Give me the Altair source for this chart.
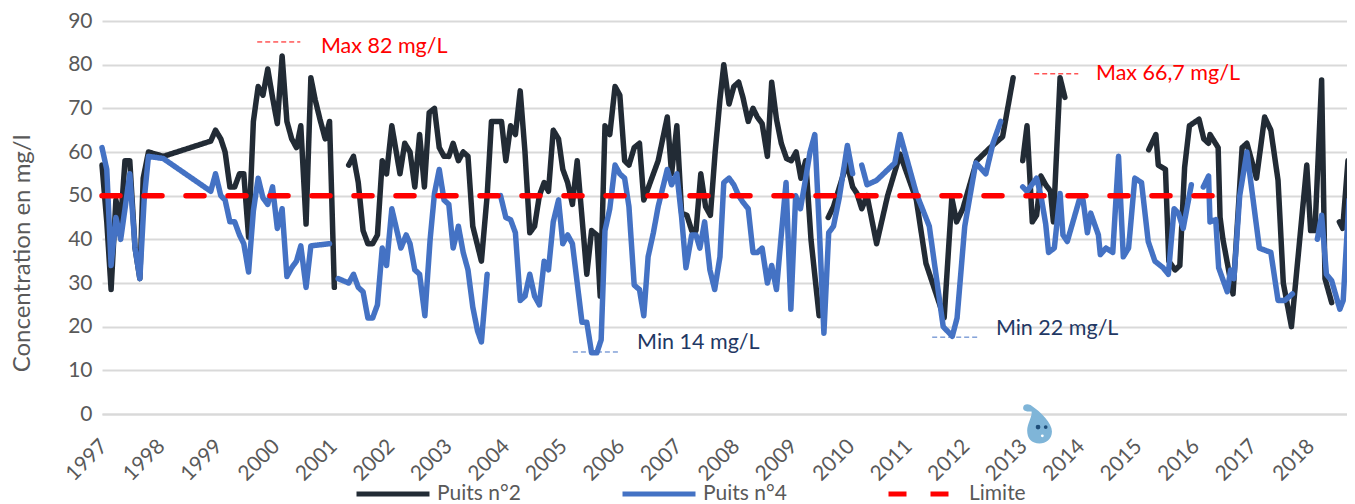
import altair as alt
import pandas as pd

# months since January 1997; None values mark gaps in the record
p2_months = [0,1,1.9,2.9,3.9,4.8,5.8,6.9,7.9,8.6,9.7,12.8,22.7,23.7,24.8,25.7,26.7,27.7,28.7,29.6,30.6,31.6,32.6,33.6,34.6,35.6,36.6,37.6,38.6,39.6,40.6,41.5,42.6,43.6,44.5,45.5,46.6,47.5,48.5,
 50,51.5,52.5,53.5,54.5,55.5,56.5,57.5,58.5,59.4,60.5,62.2,63.2,64.3,65.3,66.3,67.3,68.3,69.4,70.4,71.4,72.4,73.3,74.4,75.4,76.4,77.4,79.2,80.4,81.3,83.4,84.3,85.3,86.3,87.3,88.3,89.3,90.3,91.3,92.3,93.2,94.2,95.3,96.2,97.2,98.2,99.2,100.2,101.2,102.2,103.3,104,105,106,107.1,108.1,109.1,110,111.1,112.2,113.1,116.1,118,118.9,120,121,122.1,123.1,124,125,126,127,128,129,129.8,130.9,131.9,132.9,133.8,134.9,135.9,136.8,137.8,138.9,139.8,140.8,141.8,142.9,143.9,144.9,145.9,146.9,148,149.7,
 151,151.6,152.7,155.5,156.7,157.6,158.6,159.7,161.7,164,166.6,170,172,175.8,177.4,178.4,179.7,182.6,185.4,188,190.2,
 191.2,192.2,193.1,194.2,195.1,196,197,198,198.6,200,201,
 210,218.5,220,220.5,222,222.7,224,225,226,227,229,230,231,231.3,233,233.4,234,236.1,238,239,241,242.7,244,245.5,246.6,248.3,251.5,252.3,253.2,254.6,255.3,256.7,
 257.5,258.3,259,260.1]
p2_values = [57,44,28.5,49,44,58,58,38,31,54,60,59,62.5,65,63,60,52,52,55,55,40.5,67,75,73,79,72.5,66.5,82,67,63,61,66,43.5,77,72,67.5,63,67,29,
 None,57,59,53,42,39,39,41,58,55,66,55,62,60,52,64,52,69,70,61,59,59,62,58,60,59,43,35,50,67,67,58,66,64,74,60,41.5,43,50,53,51,65,63,56,53,48,58,45,32,42,41,27,66,64,75,73,58,57,61,62,49,58,68,55,66,46,45.5,42,42,55,47.5,45.5,60,72,80,71,75,76,72.5,67,70,68,66.5,59,76,67.5,62,58.5,58,60,54,58,40,22.5,
 None,45,47.5,57.5,52,50.5,47,50,39,50,59.5,49,34.5,22,49.5,44,47,58,61,63.5,77,
 None,58,66,44,45.5,54.5,52.5,51,44,77,72.5,
 None,60.5,64,57,56,35,33,34,56.5,66,67.5,63,62,64,61,45,40,27.5,61,62,54,68,65,53.5,30,20,57,42,42,76.5,31,25.5,
 None,44,42.5,58]

p4_months = [0,1,1.9,2.9,3.9,4.8,5.8,6.9,7.9,8.8,9.7,12.8,22.7,23.7,24.8,25.7,26.7,27.7,28.7,29.6,30.6,31.6,32.6,33.6,34.6,35.6,36.6,37.6,38.6,39.6,40.6,41.5,42.6,43.6,47.5,
 48.8,49.3,51.5,52.5,53.5,54.5,55.5,56.5,57.5,58.5,59.4,60.5,62.4,63.5,64.3,65.3,66.3,67.4,68.5,69.4,70.4,71.4,72.4,73.3,74.4,75.4,76.4,77.4,78.4,79.2,80.4,
 82,83.2,84.3,85.3,86.3,87.3,88.3,89.3,90.3,91.3,92.3,93.2,94.2,95.3,96.2,97.2,98.2,99.2,100.2,101.2,102.2,103.3,104.2,105,106,107.1,108.1,109.1,110,111.1,112.2,113.1,114,115.1,116.1,118,118.9,120,121,121.9,123.1,124,124.8,125.8,126.9,127.9,129,129.8,130.9,131.9,132.9,133.8,134.9,135.9,136.8,137.8,138.9,139.8,140.8,141.8,142.8,143.8,144.8,145.8,146.9,147.8,148.8,149.8,150.7,151.7,152.7,153.9,155.6,156.7,
 157.6,158.6,159.7,161.7,165.5,166.6,170,172.7,175.6,177.5,178.5,180.1,182.4,184.5,186,187.6,
 190,192.2,193.1,194.1,195.1,196,197,197.6,198.8,200,200.6,201.5,204,204.8,205.7,206.4,208,208.4,209.6,211,212.2,213.2,214.3,215.6,217,218.4,219.8,221.5,222.6,223.8,224.7,225.7,227.4,
 228.6,229.9,231,231.3,232.5,233.1,234.9,235.6,236.3,237.5,239,241.6,244,245.5,246.9,248.5,
 251,253.7,254.6,255.6,256.7,258.4,259.1,260.3]
p4_values = [61,56,34,45,40,47,55,38,31,49,59,58.5,51,55,50,49,44,44,41,39,32.5,46.5,54,49.5,48,52,42.5,47,31.5,33.5,35,38.5,29,38.5,39,
 None,31,30,32,29,28,22,22,25,38,34,47,38,41,39,33,32,22.5,40,50.5,56,49,48,38,43,37,33,24.5,19,16.5,32,
 None,50,45,44.5,41.5,26,27,32,27,25,35,33,44,49,39,41,39,30,21,21,14,14,17,42,47,57,55,54,47.5,29.5,28.5,22.5,36,41.5,47.5,56,52.5,55,45,33.5,41,41,38,44,33,28.5,36,53,54,52.5,50,48.5,47,37,37,38,30,34,28.5,41,53,24,50,47,54,60,64,41,18.5,41.5,43,49.5,61.5,55,
 None,57,52.5,53.5,57.5,64,50.5,43,20,17.8,22,43,57.5,55,62,67,
 None,52,51,52.5,54,50,43.5,37,38,50.5,41,39.5,49,49,41.5,46,41,36.5,38,37,59,36,38,54,53,39.5,35,33.5,32,47,46,42.5,52.5,
 None,52,54.5,44,44.5,33.5,28,33,31,50,60,38,37,26,26,27.5,
 None,40,45.5,32,30.5,24,26,49]

limit_months = [0, 232.5]
limit_values = [50, 50]

series_names = ["Puits n°2", "Puits n°4", "Limite"]
series_colors = ["#222B35", "#4472C4", "#FF0000"]
tick_years = list(range(1997, 2019))

note_text = ["Max 82 mg/L", "Max 66,7 mg/L", "Min 14 mg/L", "Min 22 mg/L"]
note_month = [45.7, 207.5, 111.7, 186.6]
note_value = [84, 77.9, 16.3, 19.5]
note_color = ["#FF0000", "#FF0000", "#1F3864", "#1F3864"]
dash_from = [32.4, 194.6, 98.3, 173.3]
dash_to = [41.4, 203.8, 107.7, 182.7]
dash_value = [85.2, 77.9, 14.2, 17.6]
dash_color = ["#FF0000", "#FF0000", "#4472C4", "#4472C4"]


def yr(m):
    return 1997 + m / 12


rows = []
for name, ms, vs in zip(series_names, [p2_months, p4_months, limit_months], [p2_values, p4_values, limit_values]):
    assert len(ms) == len(vs), (name, len(ms), len(vs))
    for m, v in zip(ms, vs):
        rows.append({"annee": yr(m), "mgl": v, "serie": name})
df = pd.DataFrame(rows).astype({"mgl": object})
df["mgl"] = df["mgl"].where(df["mgl"].notna(), None)

xscale = alt.Scale(domain=[1997, 2018.658], nice=False, zero=False)
yscale = alt.Scale(domain=[0, 90], nice=False)

shared_legend = alt.Legend(
    title=None, orient="none", legendX=252, legendY=434, direction="horizontal", columns=3,
    symbolType="stroke", symbolSize=5329, symbolStrokeWidth=5, labelFontSize=21, labelFont="Lato",
    labelColor="#595959", columnPadding=91, labelOffset=5,
)

lines = (
    alt.Chart(df)
    .mark_line(strokeWidth=5.5, strokeCap="round", strokeJoin="round")
    .encode(
        x=alt.X(
            "annee:Q",
            scale=xscale,
            title=None,
            axis=alt.Axis(
                values=tick_years, format="d", labelAngle=-45, labelAlign="right", labelBaseline="top",
                labelFontSize=21, labelColor="#595959", labelFont="Lato", ticks=False, grid=False,
                domainColor="#D9D9D9", domainWidth=2, labelPadding=21, labelOffset=-6, labelOverlap=False, labelFlush=False,
            ),
        ),
        y=alt.Y(
            "mgl:Q",
            scale=yscale,
            title="Concentration en mg/l",
            axis=alt.Axis(
                values=list(range(0, 100, 10)), labelFontSize=21, labelColor="#595959", labelFont="Lato",
                ticks=False, domain=False, gridColor="#D9D9D9", gridWidth=2, labelPadding=10,
                titleFontSize=24, titleColor="#595959", titleFont="Lato", titleFontWeight="normal",
                titleX=-68, titleY=232,
            ),
        ),
        color=alt.Color(
            "serie:N",
            scale=alt.Scale(domain=series_names, range=series_colors),
            legend=shared_legend,
        ),
        strokeDash=alt.StrokeDash(
            "serie:N",
            scale=alt.Scale(domain=series_names, range=[[1, 0], [1, 0], [18, 24]]),
            legend=shared_legend,
        ),
    )
)

dash_df = pd.DataFrame({
    "a": [yr(m) for m in dash_from], "b": [yr(m) for m in dash_to], "v": dash_value, "c": dash_color,
})
dashes = alt.Chart(dash_df).mark_rule(strokeWidth=1, strokeDash=[5, 3]).encode(
    x=alt.X("a:Q", scale=xscale), x2="b:Q", y=alt.Y("v:Q", scale=yscale), color=alt.Color("c:N", scale=None, legend=None)
)

note_df = pd.DataFrame({
    "a": [yr(m) for m in note_month], "v": note_value, "t": note_text, "c": note_color,
})
notes = alt.Chart(note_df).mark_text(align="left", baseline="middle", fontSize=21.5, font="Lato").encode(
    x=alt.X("a:Q", scale=xscale), y=alt.Y("v:Q", scale=yscale), text="t:N", color=alt.Color("c:N", scale=None, legend=None)
)

drop_path = ("M-0.35,-0.92 C0.2,-0.55 0.72,0 0.72,0.4 C0.72,0.8 0.4,1 0.1,1 C-0.3,1 -0.52,0.75 -0.52,0.35 "
             "C-0.52,0 -0.25,-0.35 -0.3,-0.6 C-0.5,-0.58 -0.75,-0.62 -0.72,-0.8 C-0.7,-0.98 -0.5,-1 -0.35,-0.92 Z")
drop = alt.Chart(pd.DataFrame({"a": [yr(195.3)], "v": [-2.18]})).mark_point(
    shape=drop_path, size=1600, filled=True, fill="#7FB5D8", opacity=1, strokeWidth=0
).encode(x=alt.X("a:Q", scale=xscale), y=alt.Y("v:Q", scale=yscale))
eyes = alt.Chart(pd.DataFrame({"a": [yr(195.4), yr(197.0)], "v": [-3.0, -3.0], "s": [22, 14]})).mark_point(
    shape="circle", filled=True, fill="#1F4E79", opacity=1, strokeWidth=0
).encode(x=alt.X("a:Q", scale=xscale), y=alt.Y("v:Q", scale=yscale), size=alt.Size("s:Q", scale=None, legend=None))
mouth = alt.Chart(pd.DataFrame({"a": [yr(196.3)], "v": [-5.0]})).mark_point(
    shape="circle", size=8, filled=True, fill="#FFFFFF", opacity=1, strokeWidth=0
).encode(x=alt.X("a:Q", scale=xscale), y=alt.Y("v:Q", scale=yscale))

chart = (
    alt.layer(lines, dashes, notes, drop, eyes, mouth)
    .properties(
        width=1245, height=393,
        autosize=alt.AutoSizeParams(type="none"),
        padding={"left": 94, "top": 13, "right": 0, "bottom": 91},
    )
    .configure_view(stroke=None)
)

chart.save("out.html", embed_options={"renderer": "svg", "actions": False})
